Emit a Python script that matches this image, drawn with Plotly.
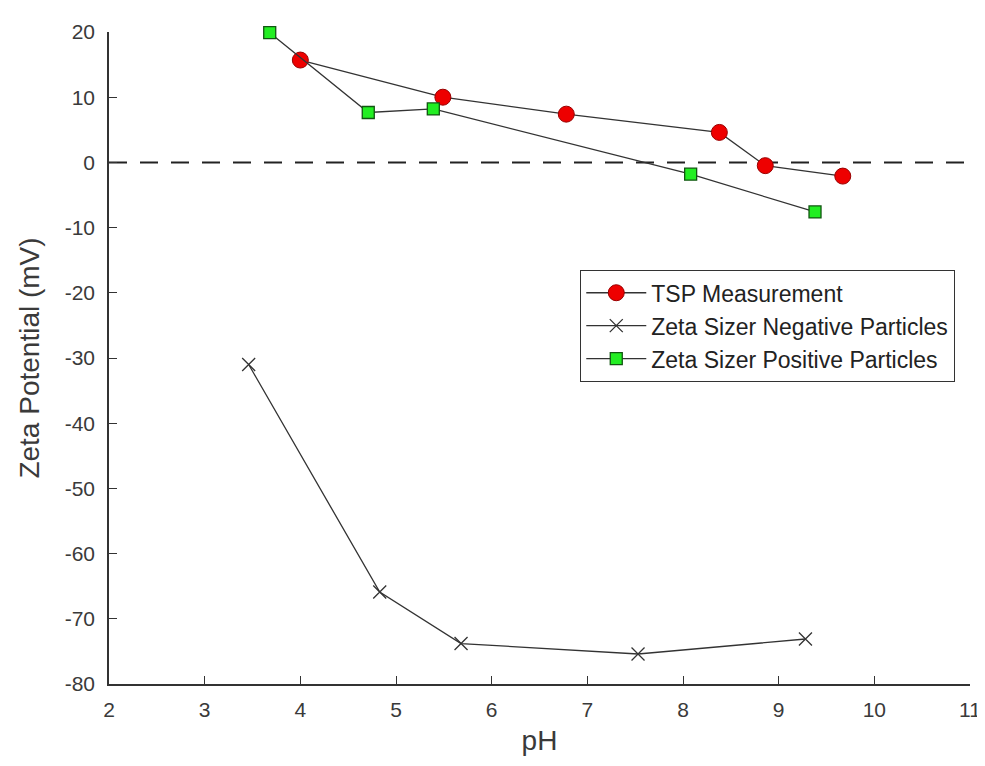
import plotly.graph_objects as go

tsp_ph = [4.0, 5.49, 6.78, 8.38, 8.86, 9.67]
tsp_zeta = [15.7, 10.0, 7.4, 4.6, -0.5, -2.1]

neg_ph = [3.46, 4.83, 5.68, 7.53, 9.28]
neg_zeta = [-31.0, -65.9, -73.8, -75.4, -73.1]

pos_ph = [3.68, 4.71, 5.39, 8.08, 9.38]
pos_zeta = [19.9, 7.65, 8.2, -1.8, -7.6]

x_ticks = [2, 3, 4, 5, 6, 7, 8, 9, 10, 11]
y_ticks = [20, 10, 0, -10, -20, -30, -40, -50, -60, -70, -80]
y_ticklabels = [str(v) for v in y_ticks]

FONT = "Liberation Sans, Arial, sans-serif"
TXT = "#3a3a3a"

fig = go.Figure()
fig.add_trace(go.Scatter(x=[2, 11], y=[0, 0], mode="lines", showlegend=False,
                         line=dict(color="#222222", width=2, dash="18px,13px"), hoverinfo="skip"))
fig.add_trace(go.Scatter(x=tsp_ph, y=tsp_zeta, mode="lines+markers", name="TSP Measurement",
                         cliponaxis=False,
                         line=dict(color="#333333", width=1.3),
                         marker=dict(symbol="circle", size=16, color="#ee0000",
                                     line=dict(color="#990000", width=1))))
fig.add_trace(go.Scatter(x=neg_ph, y=neg_zeta, mode="lines+markers", name="Zeta Sizer Negative Particles",
                         cliponaxis=False,
                         line=dict(color="#333333", width=1.3),
                         marker=dict(symbol="x-thin", size=13, color="#333333",
                                     line=dict(color="#333333", width=1.3))))
fig.add_trace(go.Scatter(x=pos_ph, y=pos_zeta, mode="lines+markers", name="Zeta Sizer Positive Particles",
                         cliponaxis=False,
                         line=dict(color="#333333", width=1.3),
                         marker=dict(symbol="square", size=12, color="#22ee22",
                                     line=dict(color="#115511", width=1.3))))

fig.update_layout(
    width=985, height=766,
    paper_bgcolor="white", plot_bgcolor="white",
    margin=dict(l=101, r=18, t=20, b=90),
    font=dict(family=FONT, size=21, color=TXT),
    legend=dict(x=0.547, y=0.635, xanchor="left", yanchor="top",
                bordercolor="#333333", borderwidth=1.3, bgcolor="white",
                font=dict(size=23, color="#222222"), itemwidth=60,
                tracegroupgap=0),
    xaxis=dict(range=[2, 11], tickvals=x_ticks, ticks="inside", ticklen=8,
               tickcolor="#333333", showline=True, linecolor="#333333", linewidth=1.5,
               showgrid=False, zeroline=False,
               title=dict(text="pH", standoff=10, font=dict(size=28)),
               ticklabelstandoff=6, tickfont=dict(size=21)),
    yaxis=dict(range=[-80, 20], tickvals=y_ticks, ticktext=y_ticklabels, ticks="inside", ticklen=8,
               tickcolor="#333333", showline=True, linecolor="#333333", linewidth=1.5,
               showgrid=False, zeroline=False,
               title=dict(text="Zeta Potential (mV)", standoff=17, font=dict(size=28)),
               ticklabelstandoff=8, tickfont=dict(size=21)),
)

fig.write_html("out.html")
